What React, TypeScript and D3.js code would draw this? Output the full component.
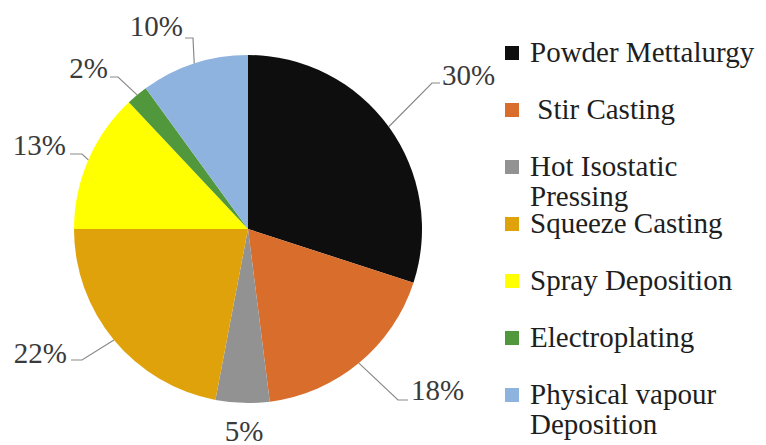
import React from "react";
import * as d3 from "d3";

// Share of MMC fabrication routes
const categories = [
  "Powder Mettalurgy",
  "Stir Casting",
  "Hot Isostatic Pressing",
  "Squeeze Casting",
  "Spray Deposition",
  "Electroplating",
  "Physical vapour Deposition",
];
const values = [30, 18, 5, 22, 13, 2, 10];
const colors = ["#0e0e0e", "#d96d2b", "#929292", "#dfa20b", "#ffff00", "#51973b", "#8fb3df"];

// Legend text, split into lines as printed
const legendLines = [
  ["Powder Mettalurgy"],
  ["\u00a0Stir Casting"],
  ["Hot Isostatic", "Pressing"],
  ["Squeeze Casting"],
  ["Spray Deposition"],
  ["Electroplating"],
  ["Physical vapour", "Deposition"],
];

// Label layout: elbow point, end of leader, text anchor point
type LabelLayout = {
  elbow?: [number, number];
  end?: [number, number];
  text: [number, number];
  anchor: "start" | "middle" | "end";
};
const labelLayout: LabelLayout[] = [
  { elbow: [432, 83], end: [440, 83], text: [442, 85], anchor: "start" },
  { elbow: [398, 400], end: [408, 400], text: [411, 400], anchor: "start" },
  { text: [244, 441], anchor: "middle" },
  { elbow: [82, 360], end: [71, 360], text: [67, 363], anchor: "end" },
  { elbow: [82, 154], end: [70, 154], text: [66, 155], anchor: "end" },
  { elbow: [118, 77], end: [110, 77], text: [108, 78], anchor: "end" },
  { elbow: [193, 38], end: [185, 38], text: [183, 36], anchor: "end" },
];

const W = 766;
const H = 445;
const cx = 248;
const cy = 229;
const R = 174;

export default function App() {
  const pie = d3.pie<number>().sort(null).value((d) => d);
  const arcs = pie(values);
  const arc = d3.arc<d3.PieArcDatum<number>>().innerRadius(0).outerRadius(R);
  const edge = d3.arc<d3.PieArcDatum<number>>().innerRadius(R).outerRadius(R);
  const total = d3.sum(values);
  const fmt = d3.format(".0%");

  const legendX = 505;
  const legendY = d3.scalePoint<number>().domain(d3.range(categories.length)).range([53, 395]);

  return (
    <svg width={W} height={H} style={{ position: "absolute", left: 0, top: 0 }}>
      <style>{`text { font-family: "Liberation Serif", "Times New Roman", serif; font-size: 29px; }`}</style>
      {arcs.map((a, i) => (
        <path key={i} transform={`translate(${cx},${cy})`} d={arc(a) ?? ""} fill={colors[i]} />
      ))}
      {arcs.map((a, i) => {
        const L = labelLayout[i];
        if (!L.elbow || !L.end) return null;
        const [ex, ey] = edge.centroid(a);
        const pts: [number, number][] = [[cx + ex, cy + ey], L.elbow, L.end];
        return <path key={i} d={d3.line()(pts) ?? ""} fill="none" stroke="#8a8a8a" strokeWidth={1.2} />;
      })}
      {arcs.map((a, i) => {
        const L = labelLayout[i];
        return (
          <text key={i} x={L.text[0]} y={L.text[1]} textAnchor={L.anchor} fontFamily="serif" fill="#3a3a3a">
            {fmt(a.data / total)}
          </text>
        );
      })}
      {categories.map((c, i) => {
        const y = legendY(i) ?? 0;
        return <rect key={c} x={legendX} y={y - 7} width={14} height={14} fill={colors[i]} />;
      })}
      {categories.map((c, i) => {
        const y = legendY(i) ?? 0;
        return legendLines[i].map((t, j) => (
          <text key={c + j} x={legendX + 25} y={y + 9 + j * 30} fontFamily="serif" fill="#1e1e1e">
            {t}
          </text>
        ));
      })}
    </svg>
  );
}
